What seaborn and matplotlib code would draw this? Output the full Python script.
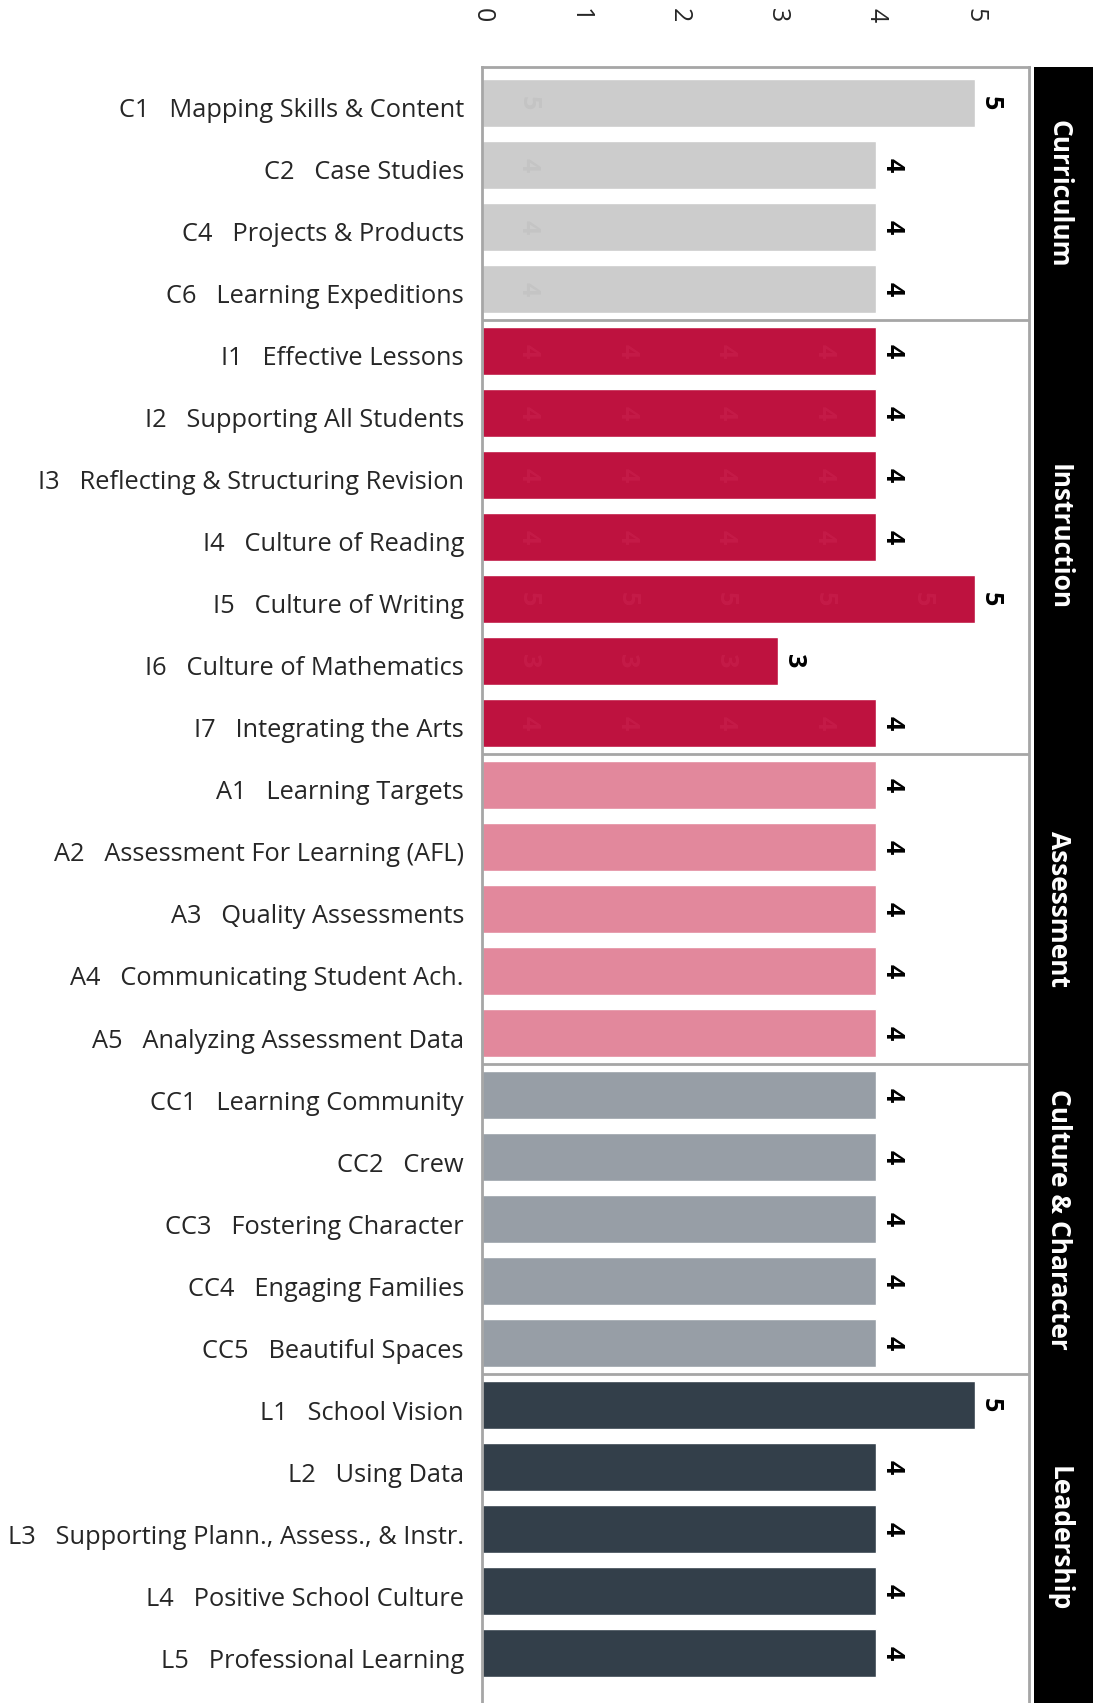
import matplotlib
matplotlib.use("Agg")
import matplotlib.pyplot as plt
import matplotlib.transforms as mtransforms
import pandas as pd
import seaborn as sns

# Datos del gráfico
codes = ["C1", "C2", "C4", "C6",
         "I1", "I2", "I3", "I4", "I5", "I6", "I7",
         "A1", "A2", "A3", "A4", "A5",
         "CC1", "CC2", "CC3", "CC4", "CC5",
         "L1", "L2", "L3", "L4", "L5"]
names = ["Mapping Skills & Content", "Case Studies", "Projects & Products", "Learning Expeditions",
         "Effective Lessons", "Supporting All Students", "Reflecting & Structuring Revision",
         "Culture of Reading", "Culture of Writing", "Culture of Mathematics", "Integrating the Arts",
         "Learning Targets", "Assessment For Learning (AFL)", "Quality Assessments",
         "Communicating Student Ach.", "Analyzing Assessment Data",
         "Learning Community", "Crew", "Fostering Character", "Engaging Families", "Beautiful Spaces",
         "School Vision", "Using Data", "Supporting Plann., Assess., & Instr.",
         "Positive School Culture", "Professional Learning"]
scores = [5, 4, 4, 4,
          4, 4, 4, 4, 5, 3, 4,
          4, 4, 4, 4, 4,
          4, 4, 4, 4, 4,
          5, 4, 4, 4, 4]
groups = ["Curriculum"] * 4 + ["Instruction"] * 7 + ["Assessment"] * 5 + \
         ["Culture & Character"] * 5 + ["Leadership"] * 5
group_names = ["Curriculum", "Instruction", "Assessment", "Culture & Character", "Leadership"]
group_colors = ["#cccccc", "#be123f", "#e2889c", "#979ea6", "#333f4a"]
x_ticks = [0, 1, 2, 3, 4, 5]

sns.set_style("white")
plt.rcParams["font.family"] = ["Open Sans", "DejaVu Sans"]

df = pd.DataFrame({
    "label": [f"{c}   {n}" for c, n in zip(codes, names)],
    "score": scores,
    "group": groups,
})

W, H = 1101, 1703
fig = plt.figure(figsize=(W / 100, H / 100), dpi=100)
ax = fig.add_axes([482 / W, 0, (1029 - 482) / W, (H - 67) / H])
ax_strip = fig.add_axes([1034 / W, 0, (1093 - 1034) / W, (H - 67) / H], sharey=ax)

sns.barplot(data=df, y="label", x="score", hue="group", hue_order=group_names,
            palette=group_colors, dodge=False, width=0.77, legend=False,
            saturation=1, ax=ax)

n = len(df)
y_top, y_bot = -0.58, n - 1 + 0.806
ax.set_xlim(0, 5.55)
ax.set_ylim(y_bot, y_top)

# Etiquetas de valor y números tenues dentro de las barras
for i, (v, g) in enumerate(zip(scores, groups)):
    ax.text(v + 0.035, i, str(v), rotation=-90, ha="left", va="center",
            fontsize=18, fontweight="bold", color="black")
    if g == "Curriculum":
        ax.text(0.47, i, str(v), rotation=-90, ha="center", va="center",
                fontsize=18, fontweight="bold", color="#c4c4c4")
    elif g == "Instruction":
        for k in range(v):
            ax.text(k + 0.47, i, str(v), rotation=-90, ha="center", va="center",
                    fontsize=18, fontweight="bold", color="#c51b48")

# Marcos de los grupos
edge = "#a6a6a6"
bounds = []
start = 0
for g in group_names:
    cnt = groups.count(g)
    bounds.append((start - 0.5, start + cnt - 0.5))
    start += cnt
for b0, b1 in bounds[:-1]:
    ax.axhline(b1, color=edge, lw=2, zorder=3)

for side in ["left", "top", "right"]:
    ax.spines[side].set_visible(True)
    ax.spines[side].set_color(edge)
    ax.spines[side].set_linewidth(2)
ax.spines["bottom"].set_visible(False)

ax.xaxis.tick_top()
ax.set_xticks(x_ticks)
ax.set_xticklabels([str(t) for t in x_ticks])
ax.tick_params(axis="x", top=True, bottom=False, length=0, pad=37,
               labelrotation=-90, labelsize=18)
ax.tick_params(axis="y", length=0, pad=13, labelsize=18.3)
for lab in ax.get_xticklabels():
    lab.set_va("center")
# bajar un poco las etiquetas de categoría
shift = mtransforms.ScaledTranslation(0, -5 / 100, fig.dpi_scale_trans)
for lab in ax.get_yticklabels():
    lab.set_transform(lab.get_transform() + shift)
ax.set_xlabel("")
ax.set_ylabel("")

# Franja negra con nombres de grupo
ax_strip.set_facecolor("black")
ax_strip.set_xlim(0, 1)
for s in ax_strip.spines.values():
    s.set_visible(False)
ax_strip.tick_params(left=False, bottom=False, labelleft=False, labelbottom=False)
for k, g in enumerate(group_names):
    b0, b1 = bounds[k]
    if k == 0:
        b0 = y_top
    if k == len(group_names) - 1:
        b1 = y_bot
    ax_strip.text(0.42, (b0 + b1) / 2, g, rotation=-90, ha="center", va="center",
                  color="white", fontsize=19, fontweight="bold")

fig.savefig("out.png", dpi=100)
plt.close(fig)
